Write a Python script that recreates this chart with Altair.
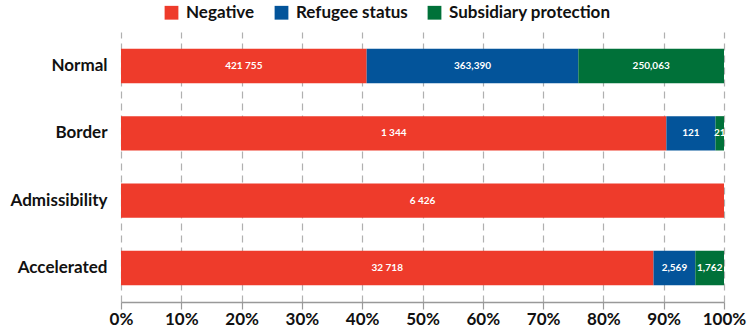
import altair as alt
import pandas as pd

categories = ["Normal", "Border", "Admissibility", "Accelerated"]
decisions = ["Negative", "Refugee status", "Subsidiary protection"]
colors = ["#EE3B2B", "#03549A", "#007139"]

negative = [421755, 1344, 6426, 32718]
refugee = [363390, 121, 0, 2569]
subsidiary = [250063, 21, 0, 1762]

neg_labels = ["421 755", "1 344", "6 426", "32 718"]
ref_labels = ["363,390", "121", "", "2,569"]
sub_labels = ["250,063", "21", "", "1,762"]

tick_values = [i / 10 for i in range(11)]

rows = []
for i, c in enumerate(categories):
    for j, (vals, labs) in enumerate(zip([negative, refugee, subsidiary],
                                          [neg_labels, ref_labels, sub_labels])):
        rows.append({"category": c, "decision": decisions[j], "order": j,
                     "value": vals[i], "label": labs[i]})
df = pd.DataFrame(rows)

FONT = "Lato"

base = alt.Chart(df).transform_stack(
    stack="value", groupby=["category"], as_=["x0", "x1"], offset="normalize",
    sort=[alt.SortField("order", order="ascending")]
).transform_calculate(mid="(datum.x0 + datum.x1) / 2")

y_enc = alt.Y("category:N", sort=categories, title=None,
              scale=alt.Scale(paddingInner=0.49, paddingOuter=0.25),
              axis=alt.Axis(domain=False, ticks=False, labelFontSize=17,
                            labelFontWeight="bold", labelColor="#111",
                            labelFont=FONT, labelPadding=14))

bars = base.mark_bar().encode(
    y=y_enc,
    x=alt.X("x0:Q", scale=alt.Scale(domain=[0, 1], nice=False), title=None,
            axis=alt.Axis(values=tick_values, format=".0%", grid=True,
                          gridDash=[7, 5], gridColor="#b0b0b0", gridWidth=1.2,
                          domainColor="#999", domainWidth=1.5,
                          tickColor="#999", tickSize=7, tickWidth=1.2,
                          labelFontSize=17, labelFontWeight="bold",
                          labelColor="#111", labelFont=FONT, labelPadding=2,
                          labelOverlap=False, labelBound=False, labelFlush=False)),
    x2="x1:Q",
    color=alt.Color("decision:N", sort=decisions,
                    scale=alt.Scale(domain=decisions, range=colors),
                    legend=alt.Legend(title=None, orient="none", direction="horizontal",
                                      legendX=42, legendY=-28, symbolType="square",
                                      symbolSize=190, symbolStrokeWidth=0,
                                      labelFontSize=17, labelFontWeight="bold",
                                      labelFont=FONT, labelColor="#111",
                                      labelLimit=300,
                                      columnPadding=18, labelOffset=6)),
)

texts = base.transform_filter("datum.label != ''").mark_text(
    color="white", fontWeight="bold", fontSize=10, font=FONT, clip=True
).encode(y=alt.Y("category:N", sort=categories), x="mid:Q", text="label:N")

chart = (bars + texts).properties(
    width=603, height=270,
    autosize=alt.AutoSizeParams(type="none"),
    padding={"left": 121, "top": 32, "right": 23, "bottom": 26},
).configure_view(stroke=None)

chart.save("out.html", embed_options={"renderer": "svg", "actions": False})
